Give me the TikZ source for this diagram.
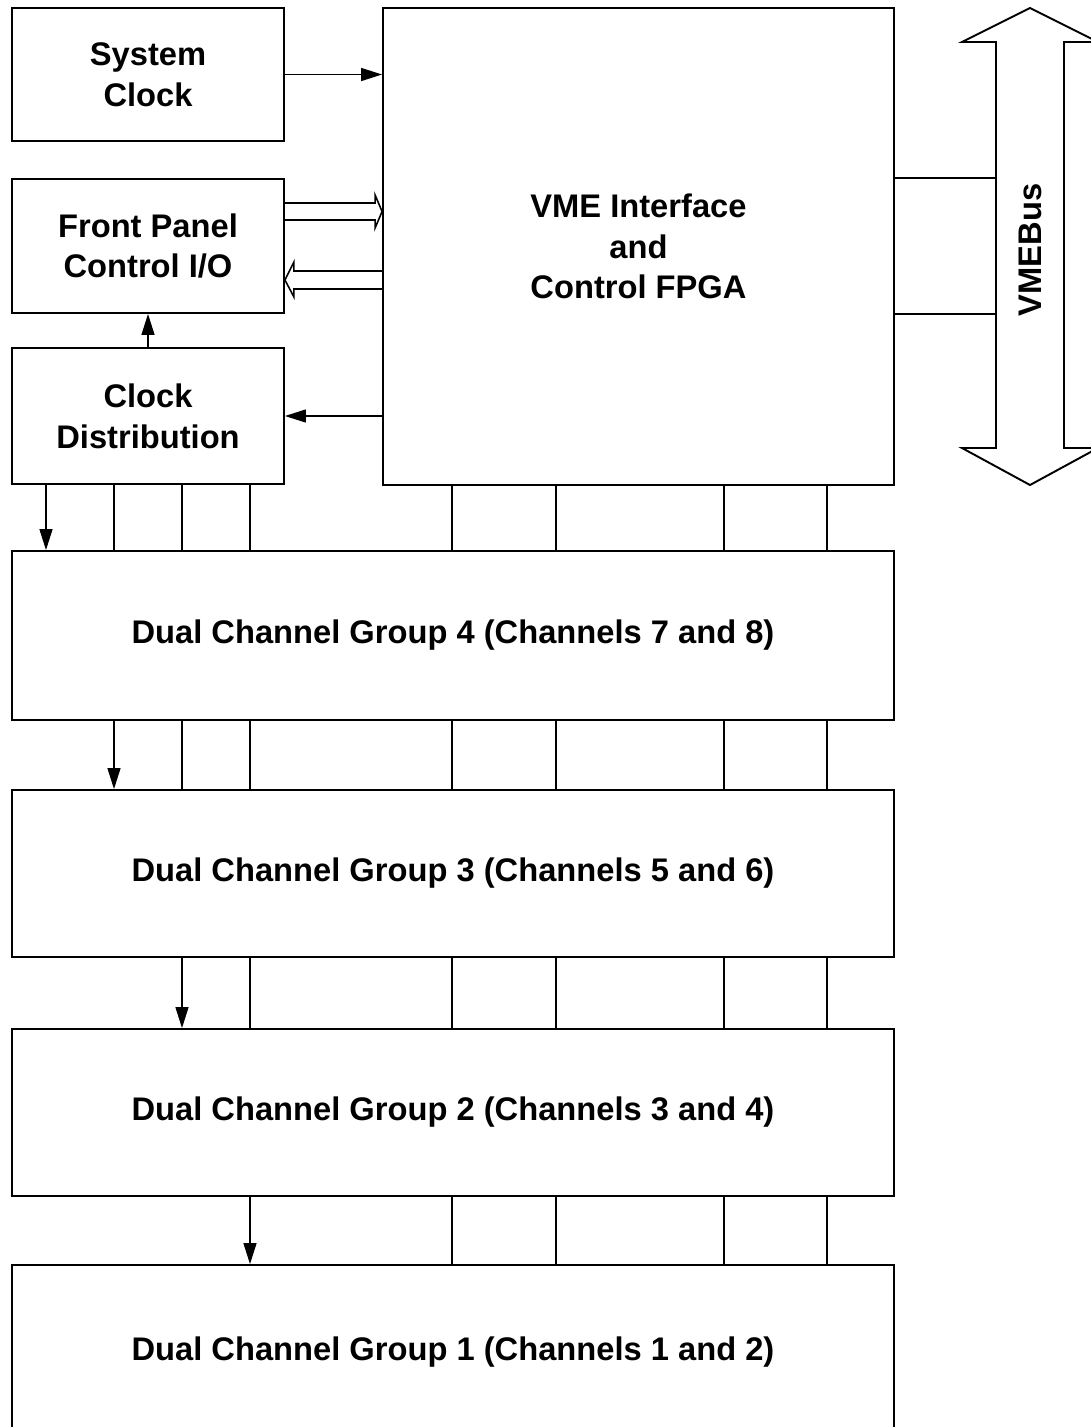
\documentclass[tikz,border=0pt]{standalone}
\usepackage{fontspec}
\setmainfont{Liberation Sans}
\usetikzlibrary{arrows.meta,calc}
\tikzset{
  blk/.style={draw, line width=1.1pt, inner sep=0pt, align=center,
    font=\fontsize{18.6}{23.2}\selectfont\bfseries},
  sig/.style={line width=0.8pt},
  arr/.style={sig, -{Triangle[length=0.42cm,width=0.26cm]}},
  hollow/.style={line width=0.9pt, line join=miter},
}
\begin{document}
\begin{tikzpicture}[x=0.02cm,y=-0.02cm]
      \useasboundingbox (0,0) rectangle (1091,1427);
      % Left Column Boxes
      \node[blk, minimum width=5.44cm, minimum height=2.66cm] (sysclk) at (148,74.5) {System\\Clock};
      \node[blk, minimum width=5.44cm, minimum height=2.68cm] (fpio) at (148,246) {Front Panel\\Control I/O};
      \node[blk, minimum width=5.44cm, minimum height=2.72cm] (clkdist) at (148,416) {Clock\\Distribution};
      % Interface FPGA
      \node[blk, minimum width=10.22cm, minimum height=9.54cm] (fpga) at (638.5,246.5) {VME Interface\\and\\Control FPGA};
      % Channel Groups
      \node[blk, minimum width=17.64cm, minimum height=3.38cm] (grp4) at (453,635.5) {Dual Channel Group 4 (Channels 7 and 8)};
      \node[blk, minimum width=17.64cm, minimum height=3.34cm] (grp3) at (453,873.5) {Dual Channel Group 3 (Channels 5 and 6)};
      \node[blk, minimum width=17.64cm, minimum height=3.34cm] (grp2) at (453,1112.5) {Dual Channel Group 2 (Channels 3 and 4)};
      \node[blk, minimum width=17.64cm, minimum height=3.5cm] (grp1) at (453,1352.5) {Dual Channel Group 1 (Channels 1 and 2)};
      % VMEBus Double Arrow
      \draw[line width=1.1pt, line join=miter] (996,42) -- (962,42) -- (1030,8) -- (1098,42) -- (1064,42)
            -- (1064,448) -- (1098,448) -- (1030,485) -- (962,448) -- (996,448) -- cycle;
      \node[rotate=90, font=\fontsize{18.6}{23.2}\selectfont\bfseries] (vmebus) at (1030,250) {VMEBus};
      \coordinate (busl) at (996,250);
      \draw[sig] (fpga.east |- 0,178) -- (busl |- 0,178);
      \draw[sig] (fpga.east |- 0,314) -- (busl |- 0,314);
      % Clock Edges
      \draw[arr] (sysclk.east) -- (sysclk.east -| fpga.west);
      \draw[arr] (clkdist.east -| fpga.west) -- (clkdist.east);
      \draw[arr] (clkdist.north) -- (fpio.south);
      % Front Panel Data Paths
      \draw[hollow] (fpio.east |- 0,203) -- ($(fpga.west |- 0,203)+(-7,0)$) -- ($(fpga.west |- 0,195)+(-7,0)$)
            -- (fpga.west |- 0,211.5) -- ($(fpga.west |- 0,228)+(-7,0)$) -- ($(fpga.west |- 0,220)+(-7,0)$) -- (fpio.east |- 0,220);
      \draw[hollow] (fpga.west |- 0,271) -- ($(fpio.east |- 0,271)+(9,0)$) -- ($(fpio.east |- 0,262)+(9,0)$)
            -- (fpio.east |- 0,280) -- ($(fpio.east |- 0,297)+(9,0)$) -- ($(fpio.east |- 0,289)+(9,0)$) -- (fpga.west |- 0,289);
      % Clock Lines to the Groups
      \foreach \a/\b/\x in {clkdist/grp4/46, grp4/grp3/114, grp3/grp2/182, grp2/grp1/250}
         \draw[arr] (\a.south -| \x,0) -- (\b.north -| \x,0);
      \foreach \a/\b/\x in {clkdist/grp4/114, clkdist/grp4/182, clkdist/grp4/250,
                            grp4/grp3/182, grp4/grp3/250, grp3/grp2/250}
         \draw[sig] (\a.south -| \x,0) -- (\b.north -| \x,0);
      % Bus Lines
      \foreach \a/\b in {fpga/grp4, grp4/grp3, grp3/grp2, grp2/grp1}
         \foreach \x in {452,556,724,827}
            \draw[sig] (\a.south -| \x,0) -- (\b.north -| \x,0);
\end{tikzpicture}
\end{document}
